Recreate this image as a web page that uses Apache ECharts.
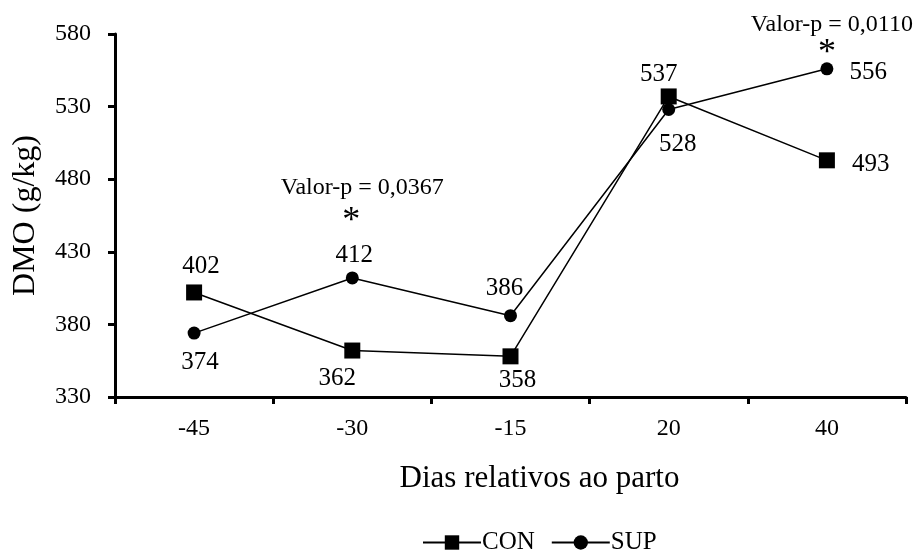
<!DOCTYPE html>
<html>
<head>
<meta charset="utf-8">
<script src="https://cdn.jsdelivr.net/npm/echarts@6/dist/echarts.min.js"></script>
<style>
html,body{margin:0;padding:0;background:#fff;}
#c{width:920px;height:554px;}
</style>
</head>
<body>
<div id="c"></div>
<script>
// ---- data ----
var categories = ['-45', '-30', '-15', '20', '40'];
var conValues = [402, 362, 358, 537, 493];
var supValues = [374, 412, 386, 528, 556];
var yTicks = [330, 380, 430, 480, 530, 580];
var sigCategories = ['-30', '40'];
var sigValues = [412, 556];
var sigTexts = ['Valor-p = 0,0367', 'Valor-p = 0,0110'];

// ---- label placement (style) ----
var FONT = 'Liberation Serif';
var conLabelCfg = [
  {position: 'top', offset: [7, 0]},
  {position: 'bottom', offset: [-15, 1]},
  {position: 'bottom', offset: [7, -2]},
  {position: 'top', offset: [-10, 5]},
  {position: 'right', offset: [11, 4]}
];
var supLabelCfg = [
  {position: 'bottom', offset: [6, 4]},
  {position: 'top', offset: [2, 3]},
  {position: 'top', offset: [-6, -2]},
  {position: 'bottom', offset: [9, 10]},
  {position: 'right', offset: [10, 4]}
];
var sigCfg = [
  {star: [-1, -56], text: [10, -90]},
  {star: [0, -15], text: [5, -44]}
];

function build(values, cfg) {
  return values.map(function (v, i) {
    return {value: v, label: {position: cfg[i].position, offset: cfg[i].offset}};
  });
}

var markData = [];
sigCategories.forEach(function (c, i) {
  markData.push({
    coord: [c, sigValues[i]],
    label: {show: true, position: 'inside', formatter: '*', offset: sigCfg[i].star, fontSize: 36, fontFamily: FONT, color: '#000'}
  });
  markData.push({
    coord: [c, sigValues[i]],
    label: {show: true, position: 'inside', formatter: sigTexts[i], offset: sigCfg[i].text, fontSize: 24, fontFamily: FONT, color: '#000'}
  });
});

var chart = echarts.init(document.getElementById('c'));
chart.setOption({
  animation: false,
  backgroundColor: '#fff',
  textStyle: {fontFamily: FONT, color: '#000'},
  grid: {left: 115, right: 14, top: 34, bottom: 157, containLabel: false},
  xAxis: {
    type: 'category',
    data: categories,
    boundaryGap: true,
    name: 'Dias relativos ao parto',
    nameLocation: 'middle',
    nameGap: 66,
    nameTextStyle: {fontSize: 31, fontFamily: FONT, color: '#000', padding: [0, 0, 0, 58]},
    axisLine: {lineStyle: {color: '#000', width: 3}},
    axisTick: {show: true, inside: false, length: 7, lineStyle: {color: '#000', width: 3}},
    axisLabel: {fontSize: 24, fontFamily: FONT, color: '#000', margin: 20}
  },
  yAxis: {
    type: 'value',
    min: yTicks[0],
    max: yTicks[yTicks.length - 1],
    interval: yTicks[1] - yTicks[0],
    name: 'DMO (g/kg)',
    nameLocation: 'middle',
    nameGap: 73,
    nameRotate: 90,
    nameTextStyle: {fontSize: 32, fontFamily: FONT, color: '#000'},
    axisLine: {show: true, lineStyle: {color: '#000', width: 3}},
    axisTick: {show: true, inside: false, length: 7, lineStyle: {color: '#000', width: 3}},
    axisLabel: {fontSize: 24, fontFamily: FONT, color: '#000', margin: 24},
    splitLine: {show: false}
  },
  legend: {
    data: ['CON', 'SUP'],
    left: 422,
    top: 530,
    padding: 0,
    itemWidth: 58,
    itemHeight: 18,
    itemGap: 16,
    textStyle: {fontSize: 25, fontFamily: FONT, color: '#000', padding: [0, 0, 0, -4]}
  },
  series: [
    {
      name: 'CON',
      type: 'line',
      data: build(conValues, conLabelCfg),
      symbol: 'rect',
      symbolSize: 16,
      lineStyle: {color: '#000', width: 1.5},
      itemStyle: {color: '#000'},
      label: {show: true, fontSize: 25, fontFamily: FONT, color: '#000', distance: 6}
    },
    {
      name: 'SUP',
      type: 'line',
      data: build(supValues, supLabelCfg),
      symbol: 'circle',
      symbolSize: 13,
      lineStyle: {color: '#000', width: 1.5},
      itemStyle: {color: '#000'},
      label: {show: true, fontSize: 25, fontFamily: FONT, color: '#000', distance: 6},
      markPoint: {
        symbol: 'circle',
        symbolSize: 1,
        itemStyle: {color: 'rgba(0,0,0,0)'},
        data: markData
      }
    }
  ]
});
</script>
</body>
</html>
